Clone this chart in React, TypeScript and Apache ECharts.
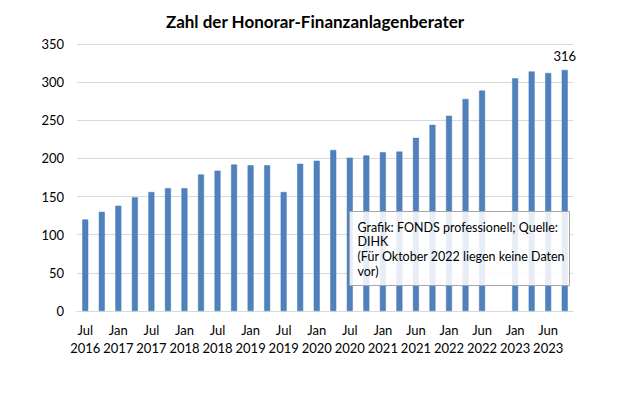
import React, { useEffect, useRef } from "react";
import * as echarts from "echarts";

const categories: string[] = [
  "Jul\n2016", "Okt 2016", "Jan\n2017", "Apr 2017", "Jul\n2017", "Okt 2017",
  "Jan\n2018", "Apr 2018", "Jul\n2018", "Okt 2018", "Jan\n2019", "Apr 2019",
  "Jul\n2019", "Okt 2019", "Jan\n2020", "Apr 2020", "Jul\n2020", "Okt 2020",
  "Jan\n2021", "Mär 2021", "Jun\n2021", "Sep 2021", "Jan\n2022", "Mär 2022",
  "Jun\n2022", "Okt 2022", "Jan\n2023", "Mär 2023", "Jun\n2023", "Sep 2023",
];

const values: (number | null)[] = [
  120, 130, 138, 149, 156, 161, 161, 179, 184, 192, 191, 191, 156, 193, 197,
  211, 201, 204, 208, 209, 227, 244, 256, 278, 289, null, 305, 314, 312, 316,
];

const yTicks = { min: 0, max: 350, interval: 50 };

const titleText = "Zahl der Honorar-Finanzanlagenberater";
const noteLines = [
  "Grafik: FONDS professionell; Quelle:",
  "DIHK",
  "(Für Oktober 2022 liegen keine Daten",
  "vor)",
];

const FONT = "Lato, 'Open Sans', 'Liberation Sans', sans-serif";

export default function App() {
  const ref = useRef<HTMLDivElement>(null);
  useEffect(() => {
    if (!ref.current) return;
    const chart = echarts.init(ref.current, null, { renderer: "svg" });
    const lastIdx = values.length - 1;
    chart.setOption({
      animation: false,
      backgroundColor: "#ffffff",
      title: {
        text: titleText,
        left: 310,
        textAlign: "center",
        top: 8,
        textStyle: { fontFamily: FONT, fontSize: 17, fontWeight: "bold", color: "#000" },
      },
      grid: { left: 77, right: 47, top: 44, bottom: 102 },
      xAxis: {
        type: "category",
        data: categories,
        axisLine: { show: true, lineStyle: { color: "#d9d9d9", width: 1 } },
        axisTick: { show: false },
        axisLabel: {
          interval: 0,
          margin: 10,
          fontFamily: FONT,
          fontSize: 13,
          color: "#000",
          lineHeight: 18,
          formatter: (v: string, i: number) => (i % 2 === 0 ? v : ""),
        },
      },
      yAxis: {
        type: "value",
        min: yTicks.min,
        max: yTicks.max,
        interval: yTicks.interval,
        axisLine: { show: false },
        axisTick: { show: false },
        splitLine: { lineStyle: { color: "#d9d9d9", width: 1 } },
        axisLabel: { fontFamily: FONT, fontSize: 13, color: "#000", margin: 13 },
      },
      series: [
        {
          type: "bar",
          data: values.map((v, i) =>
            i === lastIdx
              ? {
                  value: v,
                  label: {
                    show: true,
                    position: "top",
                    distance: 7,
                    fontFamily: FONT,
                    fontSize: 13,
                    color: "#000",
                  },
                }
              : v
          ),
          barWidth: 6,
          itemStyle: { color: "#4f81bd", borderColor: "#4a7ab3", borderWidth: 0.5 },
        },
      ],
      graphic: [
        {
          type: "group",
          left: 349,
          top: 211,
          z: 100,
          children: [
            {
              type: "rect",
              z: 100,
              shape: { x: 0, y: 0, width: 220, height: 74 },
              style: { fill: "rgba(255,255,255,0.86)", stroke: "#a6a6a6", lineWidth: 1 },
            },
            ...noteLines.map((t, i) => ({
              type: "text",
              z: 101,
              x: 8,
              y: 9 + i * 14.8,
              style: { text: t, fontFamily: FONT, fontSize: 12.5, fill: "#000" },
            })),
          ],
        },
      ],
    });
    return () => chart.dispose();
  }, []);
  return (
    <div
      ref={ref}
      style={{ position: "fixed", left: 0, top: 0, width: 620, height: 413 }}
    />
  );
}
